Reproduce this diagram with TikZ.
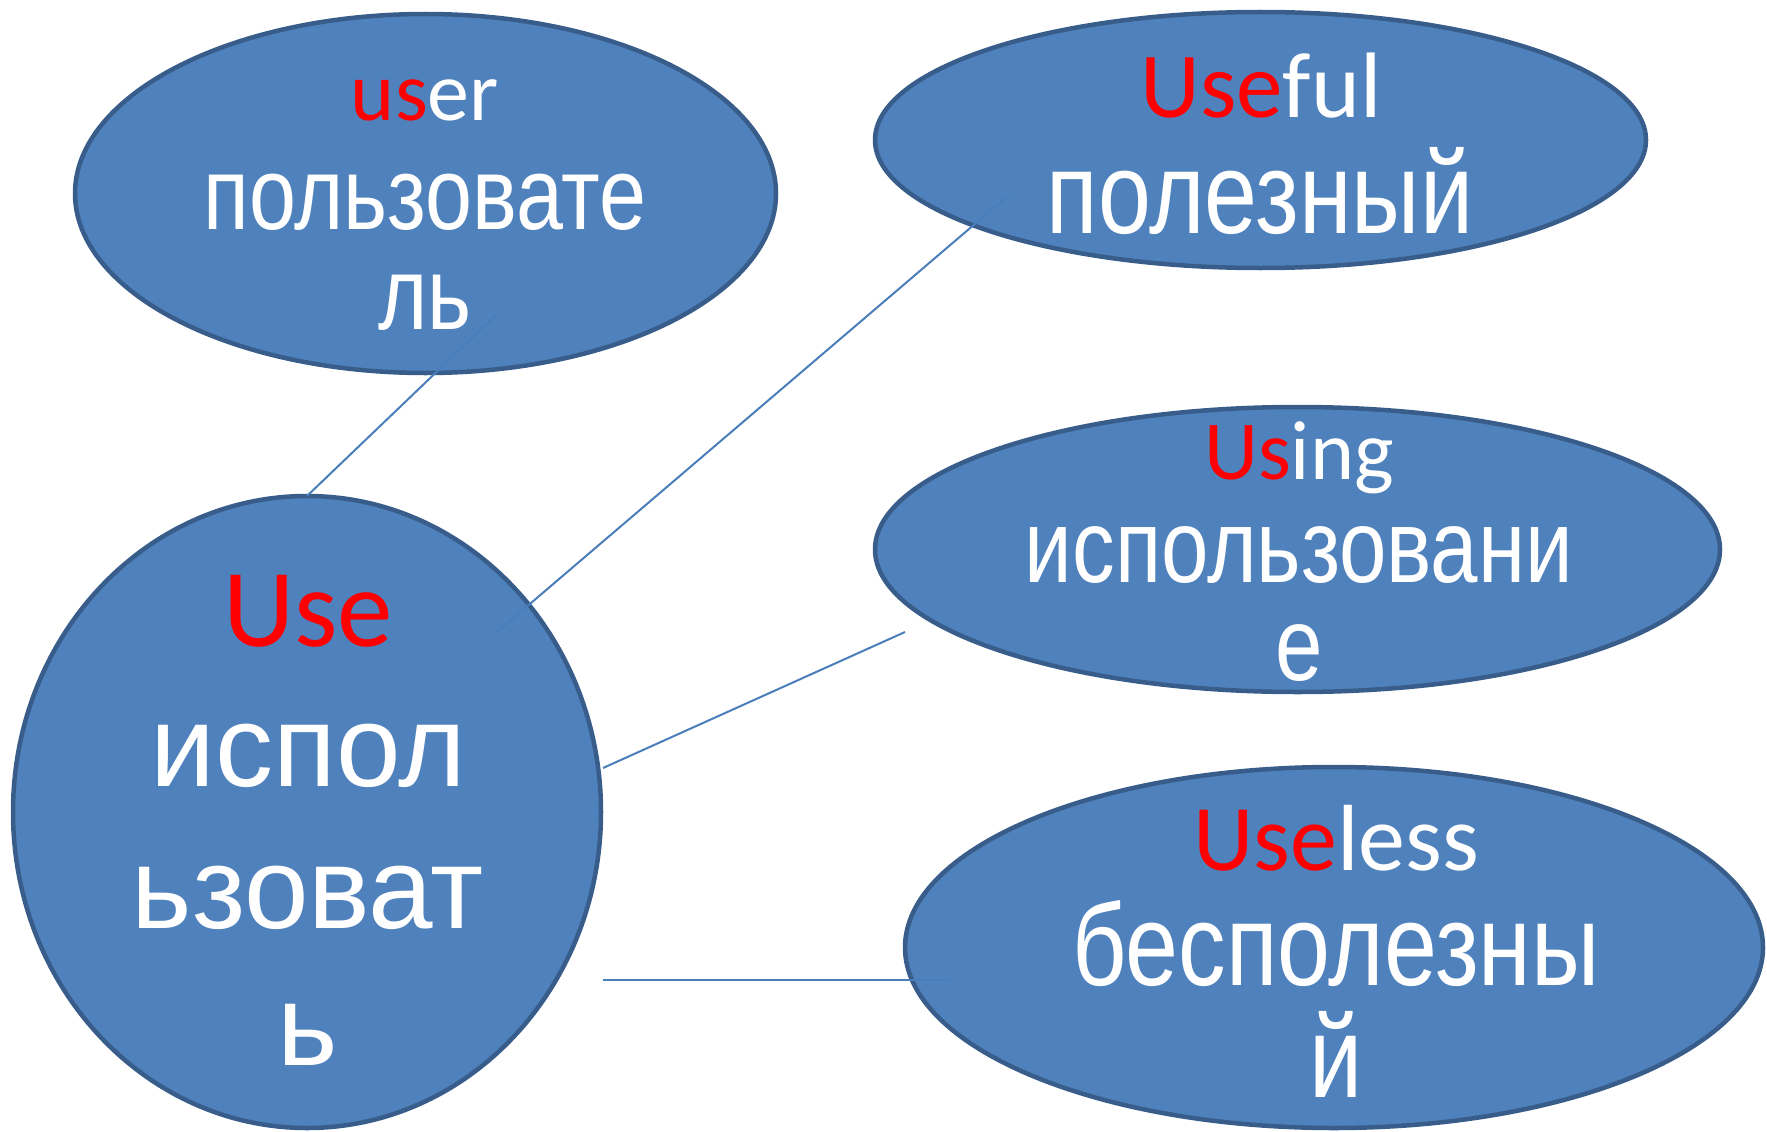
\documentclass[tikz,border=0pt]{standalone}
\usepackage{fontspec}
\setmainfont{Carlito}
\newfontfamily\cyr{Liberation Sans}
\newfontfamily\cyrn[FakeStretch=0.82]{Liberation Sans}
\usetikzlibrary{shapes.geometric}
\definecolor{bfill}{RGB}{79,129,189}
\definecolor{bline}{RGB}{56,93,138}
\definecolor{cline}{RGB}{74,126,187}
\definecolor{hl}{RGB}{255,0,0}
\begin{document}
\begin{tikzpicture}[x=1pt,y=-1pt,
  bubble/.style={ellipse,draw=bline,fill=bfill,line width=4.5pt,inner sep=0pt,outer sep=0pt},
  link/.style={draw=cline,line width=2pt},
  txt/.style={anchor=base,text=white,inner sep=0pt,outer sep=0pt}
]
\useasboundingbox (0,0) rectangle (1767,1132);
% shapes
\node[bubble,minimum width=701pt,minimum height=359pt] (user) at (425.5,193.5) {};
\node[bubble,minimum width=771pt,minimum height=256pt] (useful) at (1260.5,140) {};
\node[bubble,minimum width=845pt,minimum height=285pt] (using) at (1297.5,549.5) {};
\node[bubble,minimum width=858pt,minimum height=361pt] (useless) at (1334,947.5) {};
\node[bubble,minimum width=588pt,minimum height=632pt] (use) at (307,812) {};
% connector end points
\coordinate (u1) at (496,315);
\coordinate (c2) at (497,632);
\coordinate (f2) at (1010,194);
\coordinate (c3) at (603,768);
\coordinate (g3) at (905,632);
\coordinate (c4) at (603,980);
\coordinate (l4) at (950,980);
% connectors
\draw[link] (use.north) -- (u1);
\draw[link] (c2) -- (f2);
\draw[link] (c3) -- (g3);
\draw[link] (c4) -- (l4);
% texts
\node[txt,font=\fontsize{84}{84}\selectfont] (user-en) at (425,121) {\textcolor{hl}{us}er};
\node[txt,font=\cyrn\fontsize{103}{103}\selectfont] (user-ru1) at (425,229) {пользовате};
\node[txt,font=\cyrn\fontsize{103}{103}\selectfont] (user-ru2) at (425,329) {ль};

\node[txt,font=\fontsize{93}{93}\selectfont] (useful-en) at (1261,117) {\textcolor{hl}{Use}ful};
\node[txt,font=\cyrn\fontsize{116}{116}\selectfont] (useful-ru) at (1260,233) {полезный};

\node[txt,font=\fontsize{84}{84}\selectfont] (using-en) at (1299,479) {\textcolor{hl}{Us}ing};
\node[txt,font=\cyrn\fontsize{104}{104}\selectfont] (using-ru1) at (1299,582) {использовани};
\node[txt,font=\cyrn\fontsize{104}{104}\selectfont] (using-ru2) at (1299,680) {е};

\node[txt,font=\fontsize{94}{94}\selectfont] (useless-en) at (1336,870) {\textcolor{hl}{Use}less};
\node[txt,font=\cyrn\fontsize{116}{116}\selectfont] (useless-ru1) at (1336,985) {бесполезны};
\node[txt,font=\cyrn\fontsize{116}{116}\selectfont] (useless-ru2) at (1336,1097) {й};

\node[txt,font=\fontsize{111}{111}\selectfont] (use-en) at (308,646) {\textcolor{hl}{Use}};
\node[txt,font=\cyr\fontsize{116}{116}\selectfont] (use-ru1) at (308,786) {испол};
\node[txt,font=\cyr\fontsize{116}{116}\selectfont] (use-ru2) at (308,928) {ьзоват};
\node[txt,font=\cyr\fontsize{116}{116}\selectfont] (use-ru3) at (308,1065) {ь};
\end{tikzpicture}
\end{document}
